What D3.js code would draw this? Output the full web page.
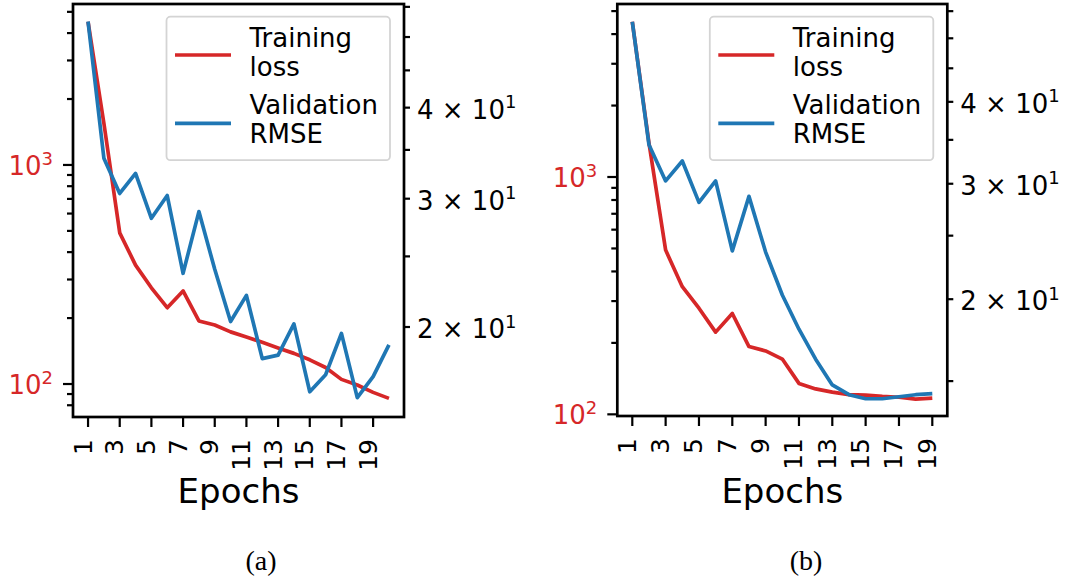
<!DOCTYPE html>
<html>
<head>
<meta charset="utf-8">
<script src="https://cdn.jsdelivr.net/npm/d3@7"></script>
<style>
  body { margin: 0; background: #fff; }
  svg { display: block; font-family: "DejaVu Sans", sans-serif; }
</style>
</head>
<body>
<div id="canvas"></div>
<script>
const canvas = d3.select("#canvas");

// data
const epochsA = [1, 2, 3, 4, 5, 6, 7, 8, 9, 10, 11, 12, 13, 14, 15, 16, 17, 18, 19, 20];
const trainLossA = [4510, 1550, 490, 349, 275, 223, 266, 194, 186, 173, 164, 155, 146, 138, 129, 119, 105, 99, 91.6, 86];
const valRmseA = [52.5, 34.1, 30.5, 32.5, 28.2, 30.3, 23.7, 28.8, 24.0, 20.35, 22.1, 18.1, 18.3, 20.2, 16.3, 17.2, 19.6, 16.0, 17.1, 18.9];

const epochsB = [1, 2, 3, 4, 5, 6, 7, 8, 9, 10, 11, 12, 13, 14, 15, 16, 17, 18, 19];
const trainLossB = [4510, 1390, 492, 345, 280, 222, 266, 193, 185, 171, 135, 128, 124, 121, 120.5, 119, 118, 116, 117];
const valRmseB = [53.0, 34.4, 30.3, 32.5, 28.1, 30.3, 23.7, 28.7, 23.6, 20.3, 18.0, 16.2, 14.8, 14.3, 14.1, 14.1, 14.2, 14.3, 14.35];

const xTickEpochs = [1, 3, 5, 7, 9, 11, 13, 15, 17, 19];
const lossTickLabels = [100, 1000];      // shown as 10^2, 10^3
const rmseTickLabels = [20, 30, 40];     // shown as k x 10^1
const seriesNames = [["Training", "loss"], ["Validation", "RMSE"]];
const captions = ["(a)", "(b)"];

const red = "#d62728";
const blue = "#1f77b4";

const width = 1067;
const height = 581;

const svg = canvas.append("svg").attr("width", width).attr("height", height);

const panels = [
  { left: 73, right: 404, top: 4, bottom: 417, xDomain: [0.05, 20.95],
    epochs: epochsA, loss: trainLossA, rmse: valRmseA,
    lossDomain: [70.7, 5430], rmseDomain: [15.05, 55.5], capX: 261 },
  { left: 617.3, right: 947.3, top: 4, bottom: 416, xDomain: [0.1, 19.9],
    epochs: epochsB, loss: trainLossB, rmse: valRmseB,
    lossDomain: [98.4, 5357], rmseDomain: [13.27, 56.4], capX: 806 },
];

panels.forEach((p, i) => {
  const g = svg.append("g");

  const x = d3.scaleLinear().domain(p.xDomain).range([p.left, p.right]);
  const yL = d3.scaleLog().domain(p.lossDomain).range([p.bottom, p.top]);
  const yR = d3.scaleLog().domain(p.rmseDomain).range([p.bottom, p.top]);

  const clipId = "clip" + i;
  g.append("clipPath").attr("id", clipId)
    .append("rect")
    .attr("x", p.left).attr("y", p.top)
    .attr("width", p.right - p.left).attr("height", p.bottom - p.top);

  const lossLine = d3.line().x((d, k) => x(p.epochs[k])).y((d) => yL(d));
  const rmseLine = d3.line().x((d, k) => x(p.epochs[k])).y((d) => yR(d));

  g.append("path").datum(p.loss)
    .attr("d", lossLine)
    .attr("clip-path", `url(#${clipId})`)
    .style("fill", "none").style("stroke", red)
    .style("stroke-width", 3.7).style("stroke-linejoin", "round");

  g.append("path").datum(p.rmse)
    .attr("d", rmseLine)
    .attr("clip-path", `url(#${clipId})`)
    .style("fill", "none").style("stroke", blue)
    .style("stroke-width", 3.7).style("stroke-linejoin", "round");

  // legend
  const lx = p.right - 237.5, ly = p.top + 12.7;
  const leg = g.append("g").attr("transform", `translate(${lx}, ${ly})`);
  leg.append("rect")
    .attr("x", 0).attr("y", 0).attr("width", 223.5).attr("height", 143.5)
    .attr("rx", 4)
    .style("fill", "rgba(255,255,255,0.8)")
    .style("stroke", "#d4d4d4").style("stroke-width", 1.8);
  [[red, 38.3, 30.6], [blue, 106.6, 97.6]].forEach(([c, yy, tb], k) => {
    leg.append("line")
      .attr("x1", 8.5).attr("x2", 64.5).attr("y1", yy).attr("y2", yy)
      .style("stroke", c).style("stroke-width", 3.7);
    const t = leg.append("text")
      .attr("x", 83).attr("y", tb)
      .style("font-size", "26px").style("fill", "#000");
    t.append("tspan").attr("x", 83).text(seriesNames[k][0]);
    t.append("tspan").attr("x", 83).attr("dy", 28.8).text(seriesNames[k][1]);
  });

  // spines
  g.append("rect")
    .attr("x", p.left).attr("y", p.top)
    .attr("width", p.right - p.left).attr("height", p.bottom - p.top)
    .style("fill", "none").style("stroke", "#000").style("stroke-width", 2.7);

  // x ticks
  const xt = g.selectAll(".xt").data(xTickEpochs).enter().append("g")
    .attr("transform", (d) => `translate(${x(d)}, ${p.bottom})`);
  xt.append("line").attr("y1", 0).attr("y2", 10)
    .style("stroke", "#000").style("stroke-width", 2.2);
  xt.append("text")
    .attr("transform", "translate(3.5, 22) rotate(-90)")
    .attr("text-anchor", "end")
    .style("font-size", "25px")
    .text((d) => d);

  g.append("text")
    .attr("x", (p.left + p.right) / 2).attr("y", 503)
    .attr("text-anchor", "middle")
    .style("font-size", "34px")
    .text("Epochs");

  // left (loss) log axis
  const lt = yL.ticks().filter((d) => {
    const v = yL(d);
    return v >= p.top - 0.5 && v <= p.bottom + 0.5;
  });
  g.selectAll(".lt").data(lt).enter().append("line")
    .attr("x1", (d) => p.left - (lossTickLabels.includes(d) ? 10 : 6))
    .attr("x2", p.left)
    .attr("y1", (d) => yL(d)).attr("y2", (d) => yL(d))
    .style("stroke", "#000").style("stroke-width", 2.2);
  const ll = g.selectAll(".ll").data(lossTickLabels).enter().append("text")
    .attr("x", p.left - 20).attr("y", (d) => yL(d) + 10)
    .attr("text-anchor", "end")
    .style("fill", red).style("font-size", "26px");
  ll.append("tspan").text("10");
  ll.append("tspan").attr("dy", -10).style("font-size", "18px")
    .text((d) => Math.round(Math.log10(d)));

  // right (rmse) log axis
  const rt = yR.ticks().filter((d) => {
    const v = yR(d);
    return v >= p.top - 0.5 && v <= p.bottom + 0.5;
  });
  g.selectAll(".rt").data(rt).enter().append("line")
    .attr("x1", p.right).attr("x2", p.right + 6)
    .attr("y1", (d) => yR(d)).attr("y2", (d) => yR(d))
    .style("stroke", "#000").style("stroke-width", 2.2);
  const rl = g.selectAll(".rl").data(rmseTickLabels).enter().append("text")
    .attr("x", p.right + 13).attr("y", (d) => yR(d) + 11)
    .style("fill", "#000").style("font-size", "26px");
  rl.append("tspan").text((d) => `${d / 10} \u00d7 10`);
  rl.append("tspan").attr("dy", -10.5).style("font-size", "18px").text("1");

  // caption
  svg.append("text")
    .attr("x", p.capX).attr("y", 570)
    .attr("text-anchor", "middle")
    .style("font-family", "'Liberation Serif', serif")
    .style("font-size", "28px")
    .text(captions[i]);
});
</script>
</body>
</html>
